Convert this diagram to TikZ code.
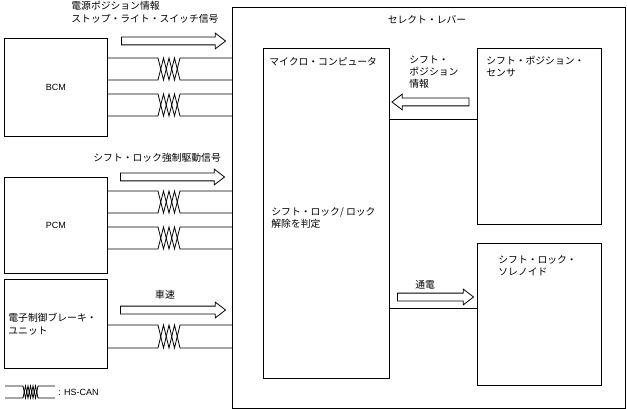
\documentclass[tikz,border=0pt]{standalone}
\usepackage{fontspec}
\setmainfont{Liberation Sans}
\newfontfamily\jpfont{Noto Sans CJK JP}
\usetikzlibrary{positioning,shapes.arrows}

% two HS-CAN wires from a unit to the select lever, twisted in the middle
\newcommand\canpair[3]{%
  \draw (#1.east |- 0,#2) -- (158,#2)
    \foreach \k in {1,3} {-- ({158+22*\k/4},#3) -- ({158+22*(\k+1)/4},#2)}
    -- (lever.west |- 0,#2);
  \draw (#1.east |- 0,#3) -- (158,#3)
    \foreach \k in {1,3} {-- ({158+22*\k/4},#2) -- ({158+22*(\k+1)/4},#3)}
    -- (lever.west |- 0,#3);
}

\begin{document}
\begin{tikzpicture}[x=1pt,y=-1pt,line width=0.8pt,
  box/.style={draw, anchor=north west, inner sep=0},
  jp/.style={font=\jpfont\fontsize{9.8}{12}\selectfont, inner sep=0, align=left},
  lat/.style={font=\fontsize{9}{11}\selectfont, inner sep=0},
  sig/.style={draw, single arrow, inner xsep=0, inner ysep=3.5pt, single arrow head extend=4pt,
    single arrow tip angle=75}]
\useasboundingbox (0,0) rectangle (627,409);

% boxes
\node[box, minimum width=393pt, minimum height=401pt] (lever) at (232,7) {};
\node[box, minimum width=103pt, minimum height=98pt, lat] (bcm) at (4,38) {BCM};
\node[box, minimum width=103pt, minimum height=96pt, lat] (pcm) at (4,177) {PCM};
\node[box, minimum width=103pt, minimum height=89pt] (ebcu) at (4,279) {};
\node[box, minimum width=126pt, minimum height=330pt] (micro) at (263,48) {};
\node[box, minimum width=124pt, minimum height=176pt] (sensor) at (477,48) {};
\node[box, minimum width=124pt, minimum height=142pt] (solenoid) at (477,243) {};

% texts
\node[jp] (levertitle) at (427,20) {セレクト・レバー};
\node[jp, anchor=north west, font=\jpfont\fontsize{9.8}{13}\selectfont] (bcmsig) at (71,1) {電源ポジション情報\\ストップ・ライト・スイッチ信号};
\node[jp, anchor=west] (pcmsig) at (93,158) {シフト・ロック強制駆動信号};
\node[jp] (speed) at (165,295) {車速};
\node[jp, anchor=north west, font=\jpfont\fontsize{9.8}{13}\selectfont] (ebcutext) at (8,313) {電子制御ブレーキ・\\ユニット};
\node[jp, anchor=west] (microtitle) at (269,62) {マイクロ・コンピュータ};
\node[jp, anchor=north west] (microtext) at (271,207) {シフト・ロック/ ロック\\解除を判定};
\node[jp, anchor=north west] (sensortext) at (486,56) {シフト・ポジション・\\センサ};
\node[jp, anchor=north west] (posinfo) at (409,56) {シフト・\\ポジション\\情報};
\node[jp, anchor=north west] (solenoidtext) at (498,255) {シフト・ロック・\\ソレノイド};
\node[jp, anchor=west] (power) at (415,285) {通電};

% signal arrows
\node[sig, minimum height=104pt] (bcmarrow) at (171,41) {};
\node[sig, minimum height=104pt] (pcmarrow) at (170,177) {};
\node[sig, minimum height=105pt] (ebcuarrow) at (170.5,310) {};
\node[sig, minimum height=77pt, shape border rotate=180] (posarrow) at (433,102) {};
\node[sig, minimum height=76pt] (powerarrow) at (433,297) {};

% HS-CAN lines
\canpair{bcm}{58}{80}
\canpair{bcm}{94}{116}
\canpair{pcm}{191}{213}
\canpair{pcm}{227}{249}
\canpair{ebcu}{325}{348}

% lever internal lines
\draw (micro.east |- 0,119) -- (sensor.west |- 0,119);
\draw (micro.east |- 0,308) -- (solenoid.west |- 0,308);

% legend
\coordinate (lgA) at (5,386);
\coordinate (lgB) at (5,398);
\draw (lgA) -- (23,386)
  \foreach \k in {1,3,5} {-- ({23+15*\k/6},398) -- ({23+15*(\k+1)/6},386)} -- (55,386);
\draw (lgB) -- (23,398)
  \foreach \k in {1,3,5} {-- ({23+15*\k/6},386) -- ({23+15*(\k+1)/6},398)} -- (55,398);
\node[lat, anchor=west] (lgtext) at (58,392) {: HS-CAN};
\end{tikzpicture}
\end{document}
